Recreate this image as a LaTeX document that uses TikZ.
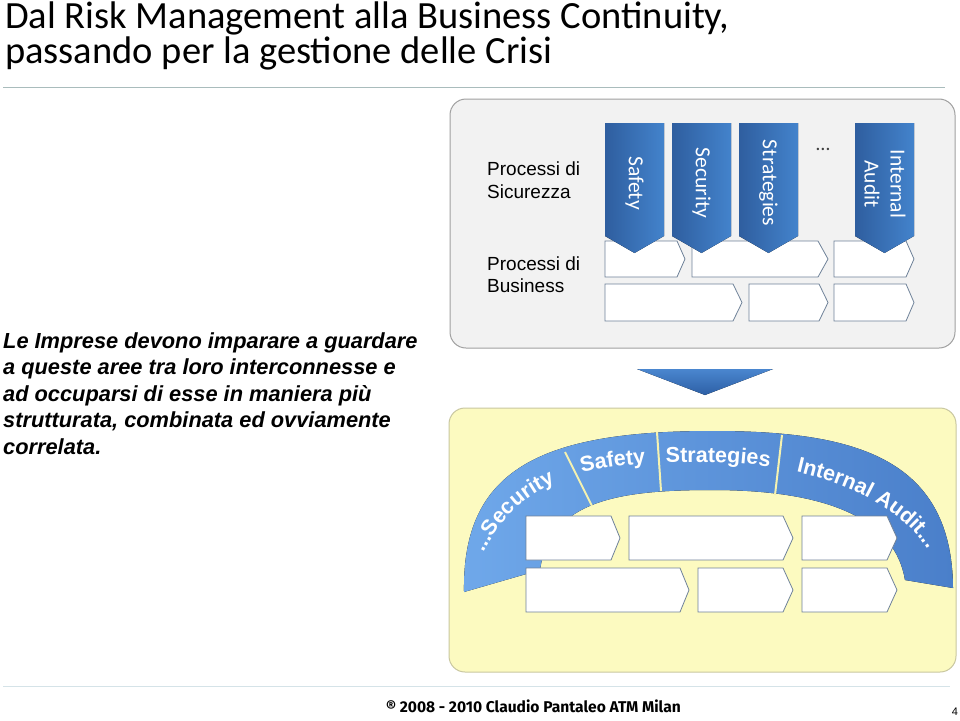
\documentclass[tikz,border=0pt]{standalone}
\usepackage{fontspec}
\setmainfont{Liberation Sans}
\newfontfamily\carlito{Carlito}
\newfontfamily\footfont{Fira Sans}
\usetikzlibrary{decorations.text}
\definecolor{grayfill}{HTML}{F2F2F2}
\definecolor{graydraw}{HTML}{A0A0A0}
\definecolor{yelfill}{HTML}{FCFAC0}
\definecolor{yeldraw}{HTML}{C9C7A0}
\definecolor{chevL}{HTML}{2F5E9F}
\definecolor{chevR}{HTML}{4383CC}
\definecolor{boxline}{HTML}{6F8299}
\definecolor{bandL}{HTML}{6FA8EA}
\definecolor{bandM}{HTML}{8CC2F6}
\definecolor{bandR}{HTML}{4A7FCA}
\definecolor{divcol}{HTML}{F5F2B0}
\definecolor{arrTop}{HTML}{4A86CF}
\definecolor{arrBot}{HTML}{2D5FA5}
\definecolor{titlerule}{HTML}{A9BCBC}
\definecolor{footrule}{HTML}{D5E3E8}
\newcommand\procbox[5]{\draw[bizbox] (#1,#4) -- (#2,#4) -- (#3,{(#4+#5)/2}) -- (#2,#5) -- (#1,#5) -- cycle;}
\newcommand\downchev[5]{\fill[chevshape] (#1,#3) -- (#2,#3) -- (#2,#4) -- ({(#1+#2)/2},#5) -- (#1,#4) -- cycle;}
\newcommand\bandfont{\bfseries\fontsize{21.5}{21.5}\selectfont}
\begin{document}
\begin{tikzpicture}[x=1pt,y=-1pt,
  bizbox/.style={draw=boxline, fill=white, line width=0.8pt, line join=miter},
  chevshape/.style={left color=chevL, right color=chevR},
  chevtext/.style={text=white, font=\carlito\fontsize{21.5}{26}\selectfont, rotate=-90, align=center, inner sep=0pt},
  lbl/.style={font=\fontsize{19}{19}\selectfont, anchor=base west, inner sep=0pt},
  para/.style={font=\bfseries\itshape\fontsize{21.8}{21.8}\selectfont, anchor=base west, inner sep=0pt},
  ttl/.style={font=\carlito\fontsize{38.5}{38.5}\selectfont, anchor=base west, inner sep=0pt},
  divline/.style={draw=divcol, line width=2pt},
  bandtxt/.style={decorate, decoration={text along path, text color=white, text align={left indent=#1}}}
]
\useasboundingbox (0,0) rectangle (960,720);
\fill[white] (0,0) rectangle (960,720);

% title
\node[ttl] (t1) at (5,28) {Dal Risk Management alla Business Continuity,};
\node[ttl] (t2) at (5,63) {passando per la gestione delle Crisi};
\coordinate (r1) at (3,87);
\coordinate (r2) at (945,87);
\draw[titlerule, line width=1pt] (r1) -- (r2);

% upper gray panel
\draw[graydraw, fill=grayfill, line width=1pt, rounded corners=16pt] (450,99) rectangle (955,348);
\node[lbl] (ps1) at (487,175) {Processi di};
\node[lbl] (ps2) at (487,198) {Sicurezza};
\node[lbl] (pb1) at (487,270) {Processi di};
\node[lbl] (pb2) at (487,292) {Business};

\procbox{605}{677}{685}{241}{277}
\procbox{692}{818}{828}{241}{277}
\procbox{834}{906}{914}{241}{277}
\procbox{605}{733}{742}{284}{321}
\procbox{749}{819}{828}{284}{321}
\procbox{834}{906}{914}{284}{321}

\downchev{605}{664}{123}{236}{253}
\downchev{672}{731}{123}{236}{253}
\downchev{739}{798}{123}{236}{253}
\downchev{855}{914}{123}{236}{253}
\node[chevtext] (c1) at (634.5,183) {Safety};
\node[chevtext] (c2) at (701.5,183) {Security};
\node[chevtext] (c3) at (768.5,183) {Strategies};
\node[chevtext] (c4) at (885,184) {Internal\\Audit};
\node[font=\carlito\fontsize{20}{20}\selectfont, text=black!75, inner sep=0pt] (dots) at (823,149) {…};

% left paragraph
\node[para] (p1) at (3,348) {Le Imprese devono imparare a guardare};
\node[para] (p2) at (3,374.5) {a queste aree tra loro interconnesse e};
\node[para] (p3) at (3,401) {ad occuparsi di esse in maniera più};
\node[para] (p4) at (3,427.5) {strutturata, combinata ed ovviamente};
\node[para] (p5) at (3,454) {correlata.};

% down arrow
\fill[top color=arrTop, bottom color=arrBot] (637,369) -- (773,369) -- (705,395) -- cycle;

% lower yellow panel
\draw[yeldraw, fill=yelfill, line width=1pt, rounded corners=16pt] (449,408) rectangle (956,672);

% arc band
\fill[left color=bandL, middle color=bandM, right color=bandR]
  (464,592) .. controls (462,470) and (540,431) .. (712,431)
  .. controls (850,431) and (952,455) .. (953,588)
  -- (905,580) .. controls (895,520) and (830,490) .. (712,490)
  .. controls (620,490) and (550,500) .. (540,570) -- cycle;
\draw[divline] (565,452) -- (592,506);
\draw[divline] (657,432) -- (661,491);
\draw[divline] (782,435) -- (775,495);

\path[bandtxt=8pt, decoration={text={|\bandfont|...Security}}]
  (480,560) .. controls (520,470) and (600,462) .. (705,462) .. controls (810,462) and (910,500) .. (935,565);
\path[bandtxt=139pt, decoration={text={|\bandfont|Safety}}]
  (480,560) .. controls (520,470) and (600,462) .. (705,462) .. controls (810,462) and (910,500) .. (935,565);
\path[bandtxt=224pt, decoration={text={|\bandfont|Strategies}}]
  (480,560) .. controls (520,470) and (600,462) .. (705,462) .. controls (810,462) and (910,500) .. (935,565);
\path[bandtxt=355pt, decoration={text={|\bandfont|Internal Audit...}}]
  (480,560) .. controls (520,470) and (600,462) .. (705,462) .. controls (810,462) and (910,500) .. (935,565);

\procbox{526}{611}{620}{516}{560}
\procbox{629}{783}{793}{516}{560}
\procbox{802}{887}{897}{516}{560}
\procbox{526}{680}{689}{568}{612}
\procbox{698}{783}{793}{568}{612}
\procbox{802}{887}{897}{568}{612}

% footer
\coordinate (f1) at (3,686);
\coordinate (f2) at (950,686);
\draw[footrule, line width=1pt] (f1) -- (f2);
\node[font=\footfont\bfseries\fontsize{15.6}{15.6}\selectfont, anchor=base west, inner sep=0pt] (foot) at (386,712) {® 2008 - 2010 Claudio Pantaleo ATM Milan};
\node[font=\fontsize{11}{11}\selectfont, anchor=base, inner sep=0pt] (pg) at (955,715) {4};
\end{tikzpicture}
\end{document}
